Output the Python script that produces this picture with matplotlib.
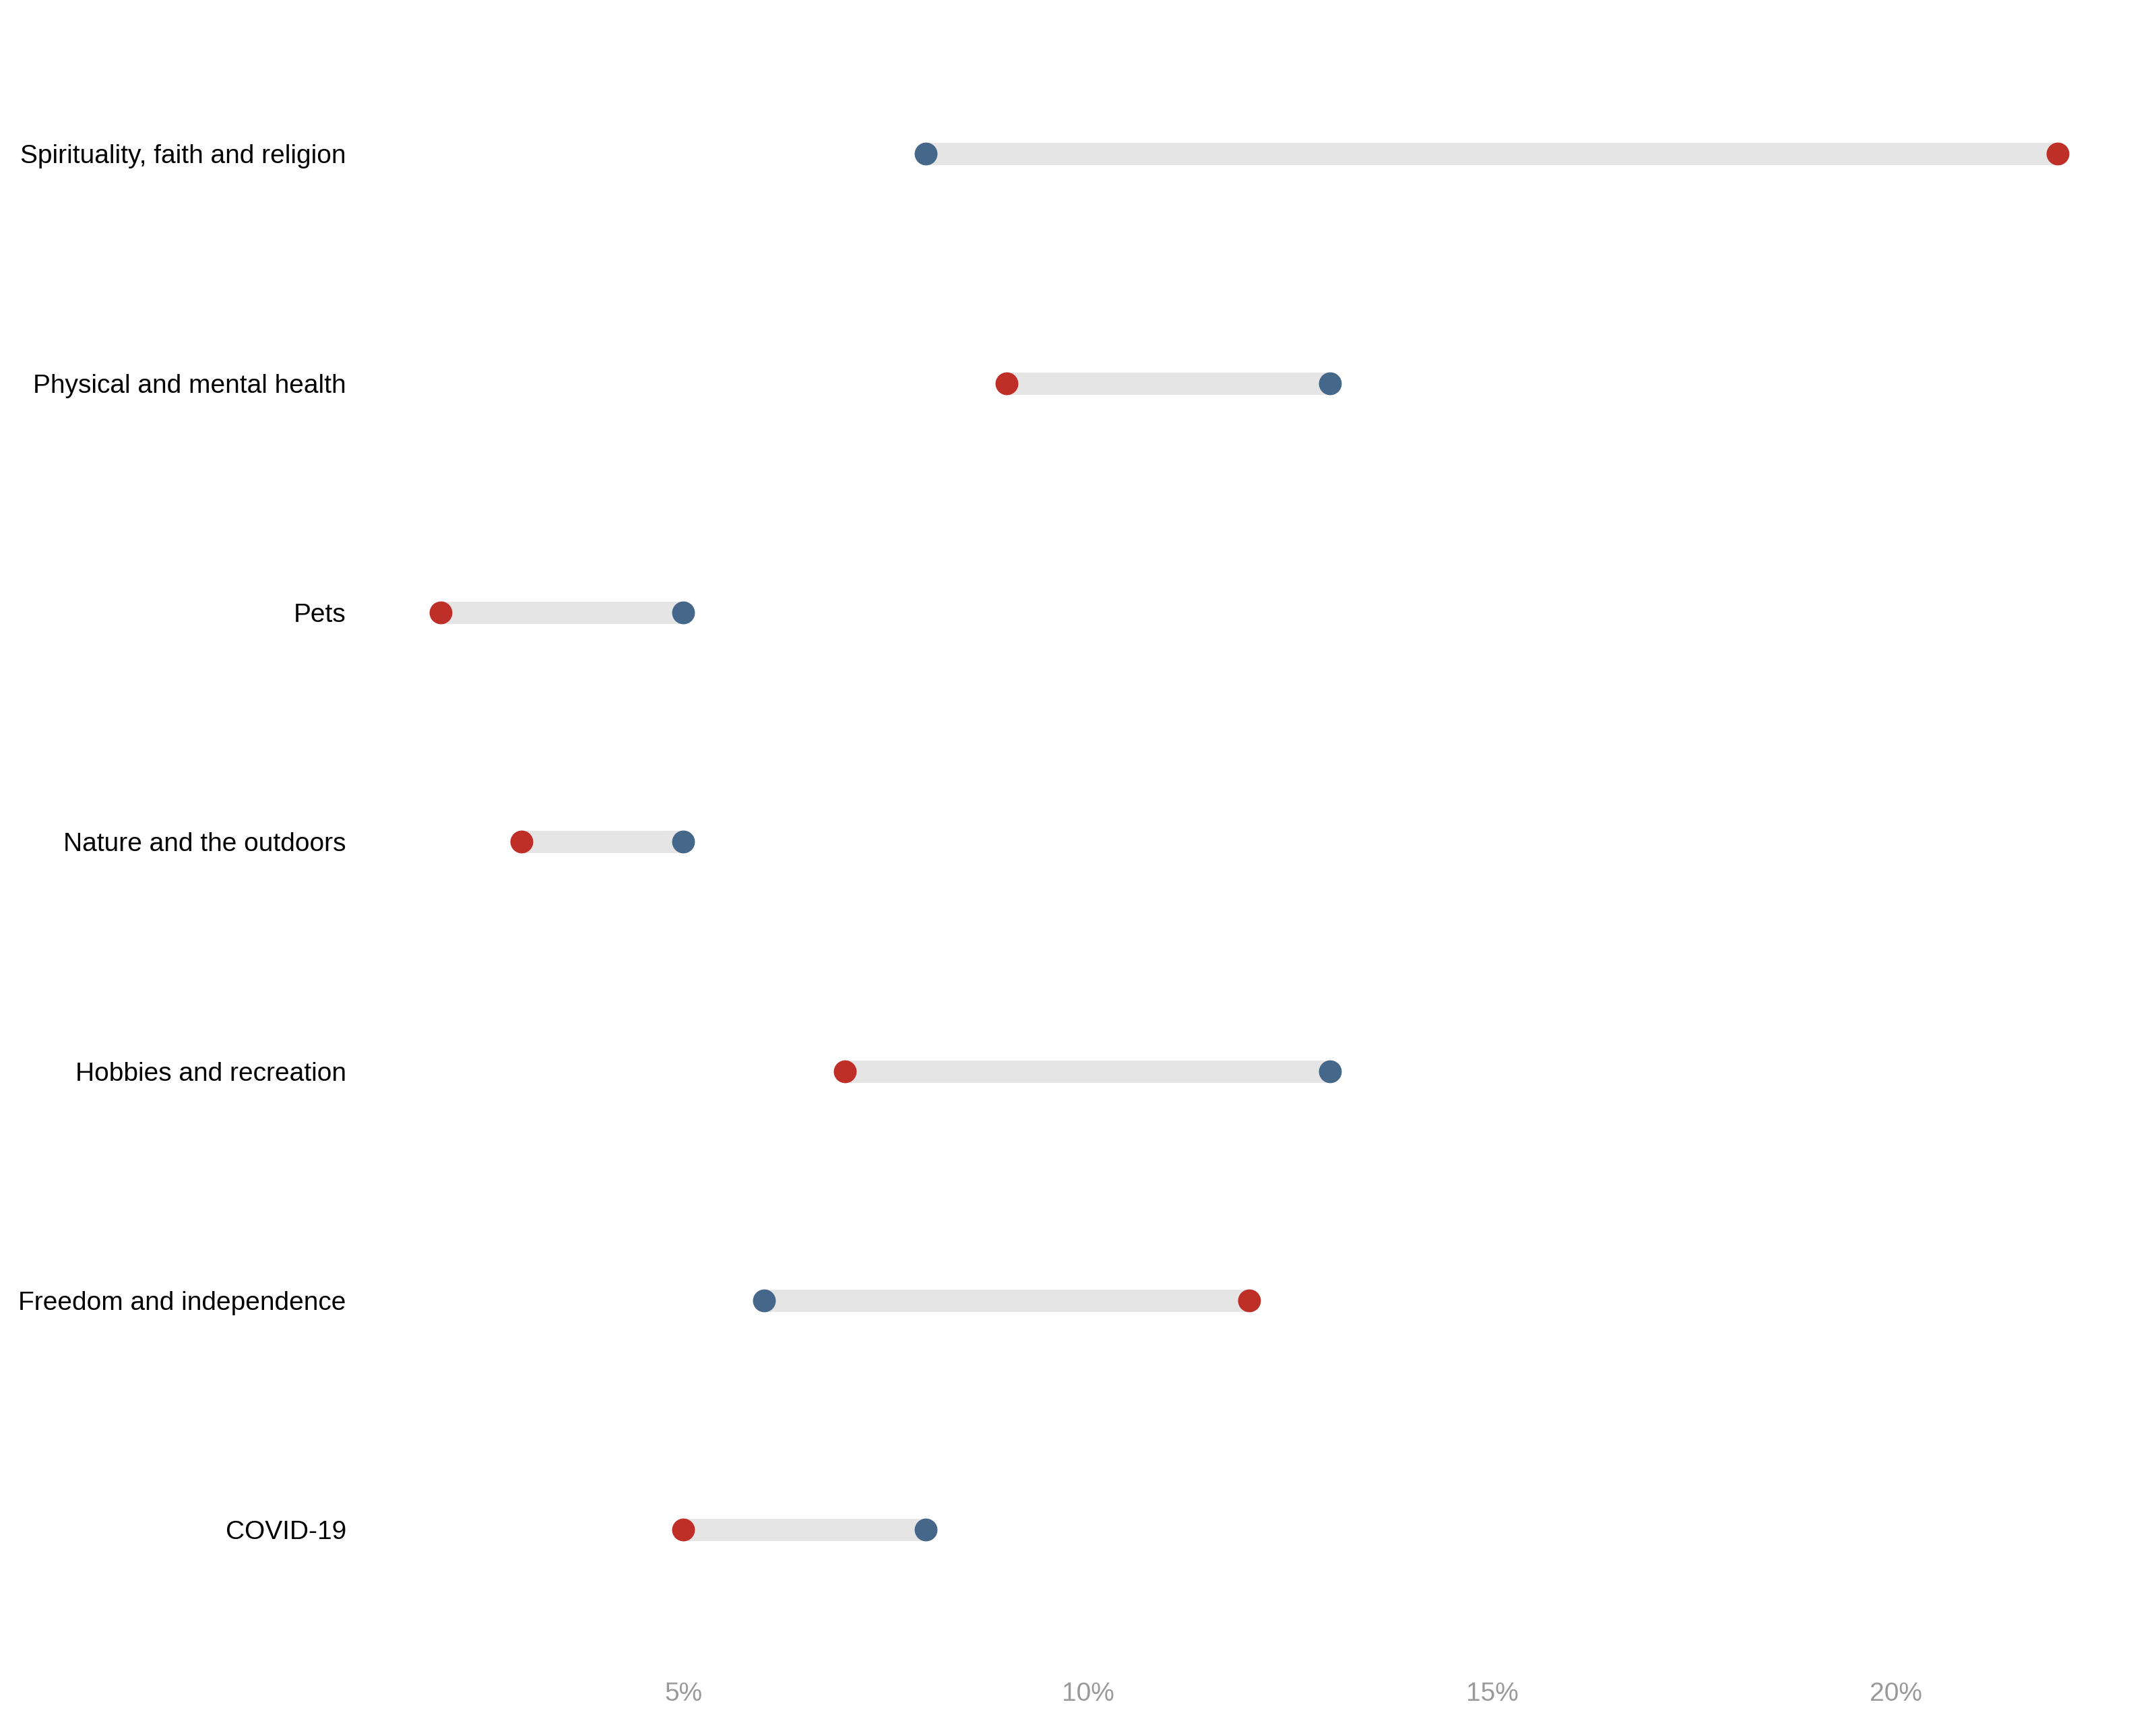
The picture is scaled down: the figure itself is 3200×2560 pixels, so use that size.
import matplotlib
matplotlib.use("Agg")
import matplotlib.pyplot as plt
from matplotlib.ticker import FuncFormatter

plt.rcParams['font.family'] = ['Liberation Sans', 'DejaVu Sans']

# categories, bottom to top
categories = ["COVID-19", "Freedom and independence", "Hobbies and recreation",
              "Nature and the outdoors", "Pets", "Physical and mental health",
              "Spirituality, faith and religion"]
blue_vals = [8, 6, 13, 5, 5, 13, 8]
red_vals = [5, 12, 7, 3, 2, 9, 22]

blue = "#45678A"
red = "#BE2F27"
seg = "#E5E5E5"

fig = plt.figure(figsize=(16, 12.8), dpi=200)
ax = fig.add_axes([0.167, 0.0335, 0.825, 0.957])

ys = list(range(1, len(categories) + 1))
for y, b, r in zip(ys, blue_vals, red_vals):
    ax.plot([b, r], [y, y], color=seg, lw=11.9, solid_capstyle='butt', zorder=1)
ax.scatter(blue_vals, ys, s=12.2**2, color=blue, zorder=3, linewidths=0)
ax.scatter(red_vals, ys, s=12.2**2, color=red, zorder=3, linewidths=0)

ax.set_xlim(1, 23)
ax.set_ylim(0.4, 7.6)
ax.set_yticks(ys)
ax.set_yticklabels(categories)
ax.set_xticks([5, 10, 15, 20])
ax.xaxis.set_major_formatter(FuncFormatter(lambda v, p: f"{v:.0f}%"))
ax.tick_params(axis='y', length=0, labelsize=14, labelcolor='black', pad=7.4)
ax.tick_params(axis='x', length=0, labelsize=14, labelcolor='#999999', pad=8)
for s in ax.spines.values():
    s.set_visible(False)

fig.savefig("out.png", dpi=200, facecolor='white')
